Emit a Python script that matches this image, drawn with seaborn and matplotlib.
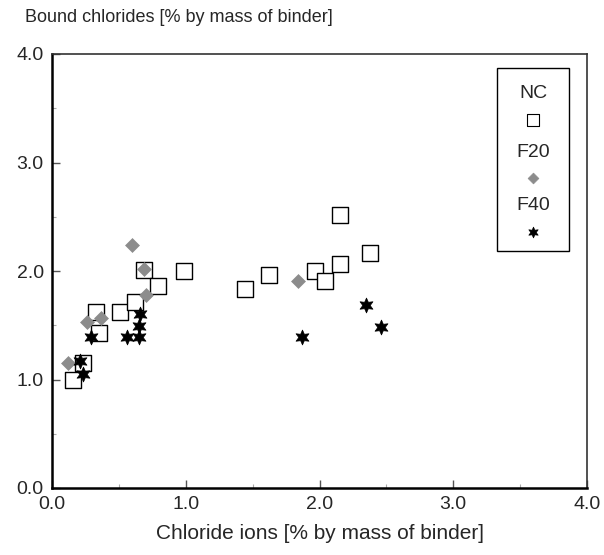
import numpy as np
import pandas as pd
import matplotlib.pyplot as plt
import seaborn as sns
from matplotlib.patches import Rectangle
from matplotlib.ticker import MultipleLocator

# NC mix - squares
nc_x = [0.16, 0.23, 0.35, 0.33, 0.51, 0.62, 0.69, 0.79, 0.99, 1.44, 1.62, 1.97, 2.04, 2.15, 2.15, 2.38]
nc_y = [1.00, 1.15, 1.43, 1.62, 1.62, 1.71, 2.01, 1.86, 2.00, 1.83, 1.96, 2.00, 1.91, 2.06, 2.52, 2.17]

# F20 mix - grey diamonds
f20_x = [0.12, 0.26, 0.37, 0.60, 0.69, 0.70, 1.84]
f20_y = [1.15, 1.53, 1.57, 2.24, 2.02, 1.78, 1.91]

# F40 mix - black stars
f40_x = [0.21, 0.23, 0.29, 0.56, 0.65, 0.65, 0.66, 1.87, 2.35, 2.46]
f40_y = [1.17, 1.05, 1.39, 1.39, 1.39, 1.49, 1.60, 1.39, 1.69, 1.48]

series = ["NC", "F20", "F40"]

nc = pd.DataFrame({"x": nc_x, "y": nc_y})
f20 = pd.DataFrame({"x": f20_x, "y": f20_y})
f40 = pd.DataFrame({"x": f40_x, "y": f40_y})

sns.set_style("white")
plt.rcParams["font.family"] = ["Liberation Sans", "DejaVu Sans"]
plt.rcParams["font.size"] = 14

fig = plt.figure(figsize=(6.04, 5.55), dpi=100)
ax = fig.add_axes([52 / 604, 1 - 488 / 555, 535 / 604, 434 / 555])

star = (6, 1, 0)
sns.scatterplot(data=nc, x="x", y="y", ax=ax, marker="s", s=120,
                facecolor="white", edgecolor="black", linewidth=1.0, zorder=3)
sns.scatterplot(data=f20, x="x", y="y", ax=ax, marker="D", s=50,
                color="#8c8c8c", edgecolor="#8c8c8c", linewidth=0.5, zorder=4)
sns.scatterplot(data=f40, x="x", y="y", ax=ax, marker=star, s=115,
                color="black", edgecolor="black", linewidth=0.5, zorder=5)

ax.set_xlim(0, 4)
ax.set_ylim(0, 4)
ax.xaxis.set_major_locator(MultipleLocator(1.0))
ax.yaxis.set_major_locator(MultipleLocator(1.0))
ax.xaxis.set_minor_locator(MultipleLocator(0.5))
ax.yaxis.set_minor_locator(MultipleLocator(0.5))
ax.xaxis.set_major_formatter(plt.FormatStrFormatter("%.1f"))
ax.yaxis.set_major_formatter(plt.FormatStrFormatter("%.1f"))
ax.tick_params(which="major", direction="in", length=6, width=1, color="#555555",
               labelsize=14, bottom=True, left=True)
ax.tick_params(which="minor", direction="in", length=3, width=0.8, color="#aaaaaa",
               bottom=True, left=True)
ax.tick_params(axis="x", pad=6)
ax.tick_params(axis="y", pad=6)

for side in ["left", "bottom"]:
    ax.spines[side].set_linewidth(1.8)
    ax.spines[side].set_color("black")
for side in ["top", "right"]:
    ax.spines[side].set_linewidth(1.2)
    ax.spines[side].set_color("#333333")

ax.set_xlabel("Chloride ions [% by mass of binder]", fontsize=15, labelpad=8)
ax.set_ylabel("")
fig.text(25 / 604, 1 - 17 / 555, "Bound chlorides [% by mass of binder]",
         fontsize=13, ha="left", va="center")

# legend box in Excel style: label above marker
ax.add_patch(Rectangle((0.832, 0.546), 0.134, 0.422, transform=ax.transAxes,
                       facecolor="white", edgecolor="black", linewidth=1.0, zorder=6))
lx = 0.899
leg_text_y = [0.910, 0.772, 0.652]
leg_mark_y = [0.848, 0.714, 0.590]
leg_style = [
    dict(marker="s", s=70, facecolor="white", edgecolor="black", linewidth=0.8),
    dict(marker="D", s=30, facecolor="#8c8c8c", edgecolor="#8c8c8c", linewidth=0.5),
    dict(marker=star, s=60, facecolor="black", edgecolor="black", linewidth=0.5),
]
for name, ty, my, st in zip(series, leg_text_y, leg_mark_y, leg_style):
    ax.text(lx, ty, name, transform=ax.transAxes, ha="center", va="center",
            fontsize=14, zorder=7)
    ax.scatter([lx], [my], transform=ax.transAxes, zorder=7, clip_on=False, **st)

fig.savefig("out.png", dpi=100)
plt.close()
